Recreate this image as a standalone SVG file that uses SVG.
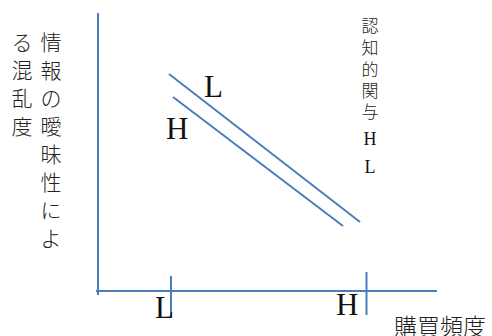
<svg xmlns="http://www.w3.org/2000/svg" width="492" height="336" viewBox="0 0 492 336">
<style>
.ln{stroke:#4a7ebb;stroke-width:2;fill:none}
.jp{font-family:"Noto Sans CJK JP","Noto Sans CJK SC",sans-serif;font-weight:300;fill:#222;text-anchor:middle}
.sr{font-family:"Liberation Serif",serif;fill:#111}
</style>
<rect width="492" height="336" fill="#fff"/>
<g id="connectors">
<line class="ln" x1="98" y1="13" x2="98" y2="295"/>
<line class="ln" x1="96" y1="291" x2="437" y2="291"/>
<line class="ln" x1="171" y1="276" x2="171" y2="316"/>
<line class="ln" x1="366.5" y1="272" x2="366.5" y2="315"/>
<line class="ln" x1="169" y1="74" x2="360" y2="222"/>
<line class="ln" x1="173" y1="97" x2="343" y2="226"/>
</g>
<g id="y-axis-label">
<text class="jp" font-size="21"><tspan x="51" y="50">情</tspan><tspan x="51" y="78">報</tspan><tspan x="51" y="106">の</tspan><tspan x="51" y="134">曖</tspan><tspan x="51" y="162">昧</tspan><tspan x="51" y="190">性</tspan><tspan x="51" y="218">に</tspan><tspan x="51" y="246">よ</tspan></text>
<text class="jp" font-size="21"><tspan x="22" y="50">る</tspan><tspan x="22" y="78">混</tspan><tspan x="22" y="106">乱</tspan><tspan x="22" y="134">度</tspan></text>
</g>
<g id="legend-label">
<text class="jp" font-size="17"><tspan x="370" y="32">認</tspan><tspan x="370" y="54">知</tspan><tspan x="370" y="76">的</tspan><tspan x="370" y="97">関</tspan><tspan x="370" y="118">与</tspan></text>
<text class="sr" font-size="18" text-anchor="middle"><tspan x="370" y="145">H</tspan><tspan x="370" y="173">L</tspan></text>
</g>
<g id="x-axis-label">
<text class="jp" font-size="23" x="394" y="335" style="text-anchor:start">購買頻度</text>
</g>
<g id="line-labels">
<text class="sr" font-size="31" x="204" y="97">L</text>
<text class="sr" font-size="31" x="166" y="139">H</text>
</g>
<g id="tick-labels">
<text class="sr" font-size="31" x="155" y="318">L</text>
<text class="sr" font-size="31" x="336" y="315">H</text>
</g>
</svg>
